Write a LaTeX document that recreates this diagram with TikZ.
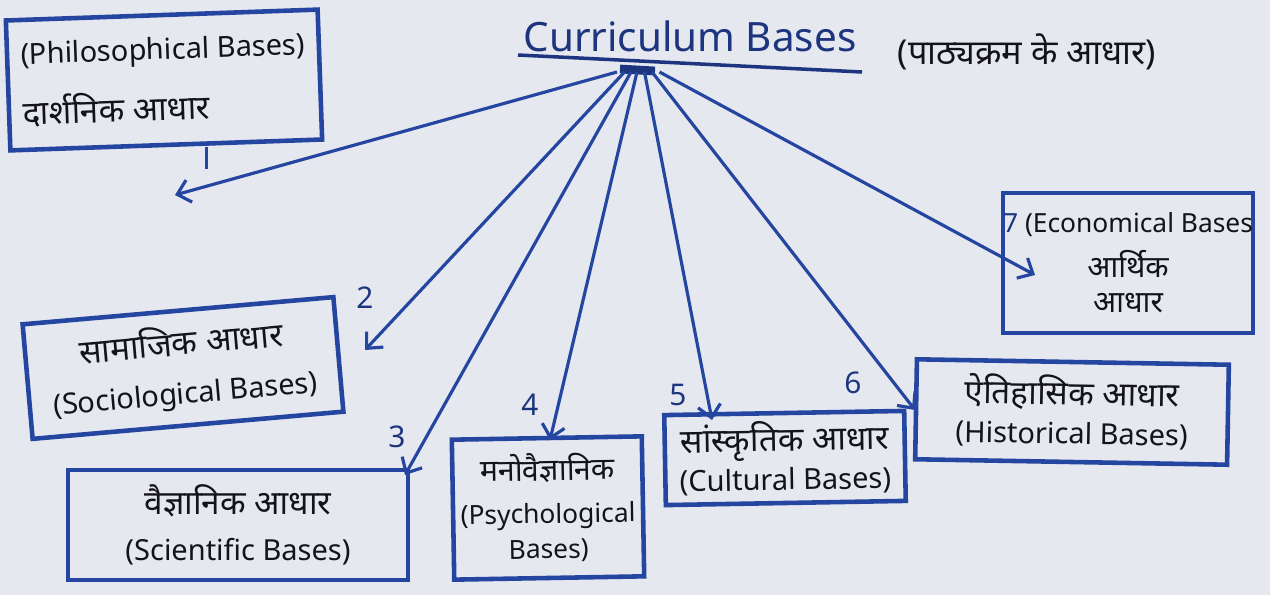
\documentclass[tikz,border=0pt]{standalone}
\usepackage{fontspec}
\setmainfont{Noto Sans}
\newfontfamily\deva[Script=Devanagari,Scale=1.15]{Noto Sans}
\usetikzlibrary{arrows.meta}
\definecolor{pen}{HTML}{2446A0}
\definecolor{ink}{HTML}{141418}
\definecolor{navy}{HTML}{1C357E}
\definecolor{paper}{HTML}{E6E8EF}

\begin{document}
\begin{tikzpicture}[x=0.02cm,y=-0.02cm]
\tikzstyle{every node}+=[inner sep=0pt, text=ink]
\tikzstyle{basebox}=[draw=pen, line width=2.6pt, align=center, font=\fontsize{16.5}{22}\selectfont]
\tikzstyle{link}=[draw=pen, line width=1.8pt, -{Straight Barb[length=7pt,width=13pt]}]
\tikzstyle{num}=[text=navy, font=\bfseries\fontsize{17}{20}\selectfont]
\fill [paper] (0,0) rectangle (1270,595);
\useasboundingbox (0,0) rectangle (1270,595);
% title
\node [text=navy, font=\bfseries\fontsize{23}{26}\selectfont] (title) at (690,36) {Curriculum Bases};
\node [font=\fontsize{17}{20}\selectfont] (htitle) at (1027,52) {\deva (पाठ्यक्रम के आधार)};
\draw [navy, line width=2pt] (518,55) -- (862,72);
\draw [navy, line width=5pt] (620,69) -- (655,71);
\coordinate (hub) at (637,72);
% boxes
\node [basebox, minimum width=6.24cm, minimum height=2.6cm, rotate=2, align=left] (phil) at (164,80)
  {(Philosophical Bases)\\[0.45cm] {\deva दार्शनिक आधार}};
\node [basebox, minimum width=6.24cm, minimum height=2.3cm, rotate=5] (soc) at (183,368)
  {{\deva सामाजिक आधार}\\[0.2cm] (Sociological Bases)};
\node [basebox, minimum width=6.8cm, minimum height=2.2cm] (sci) at (238,525)
  {{\deva वैज्ञानिक आधार}\\[0.15cm] (Scientific Bases)};
\node [basebox, minimum width=3.8cm, minimum height=2.8cm, rotate=1, font=\fontsize{15}{20}\selectfont] (psy) at (548,508)
  {{\deva मनोवैज्ञानिक}\\[0.15cm] (Psychological\\ Bases)};
\node [basebox, minimum width=4.8cm, minimum height=1.8cm, rotate=1] (cul) at (785,458)
  {{\deva सांस्कृतिक आधार}\\ (Cultural Bases)};
\node [basebox, minimum width=6.24cm, minimum height=2cm, rotate=-1] (his) at (1072,412)
  {{\deva ऐतिहासिक आधार}\\ (Historical Bases)};
\node [basebox, minimum width=5cm, minimum height=2.8cm, font=\fontsize{15}{20}\selectfont] (eco) at (1128,263)
  {\textcolor{navy}{\bfseries 7} (Economical Bases\\[0.2cm] {\deva आर्थिक}\\ {\deva आधार}};
% numbers
\node [num] (n2) at (365,298) {2};
\node [num] (n3) at (397,437) {3};
\node [num] (n4) at (530,405) {4};
\node [num] (n5) at (678,395) {5};
\node [num] (n6) at (853,383) {6};
% arrow tips
\coordinate (t1) at (175,195);
\coordinate (t2) at (365,350);
\coordinate (t3) at (405,475);
\coordinate (t4) at (550,440);
\coordinate (t5) at (712,420);
\coordinate (t6) at (915,410);
\coordinate (t7) at (1035,275);
\draw [link] ([xshift=-0.4cm]hub) -- (t1);
\draw [link] ([xshift=-0.25cm]hub) -- (t2);
\draw [link] ([xshift=-0.12cm]hub) -- (t3);
\draw [link] (hub) -- (t4);
\draw [link] ([xshift=0.15cm]hub) -- (t5);
\draw [link] ([xshift=0.3cm]hub) -- (t6);
\draw [link] ([xshift=0.45cm]hub) -- (t7);
\draw [pen, line width=1.8pt] (phil.south) ++(40,0) coordinate (tick) -- ++(0,22);
\end{tikzpicture}
\end{document}
